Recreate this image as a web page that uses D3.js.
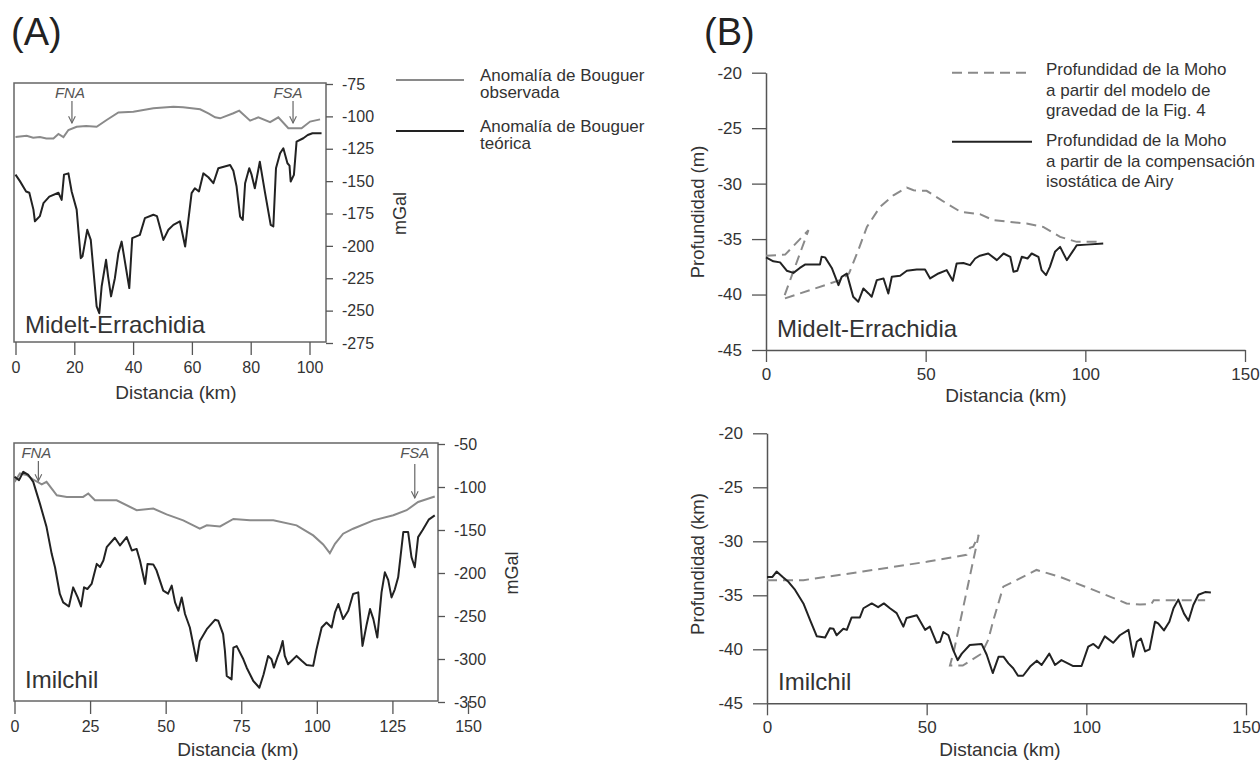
<!DOCTYPE html>
<html>
<head>
<meta charset="utf-8">
<script src="https://cdn.jsdelivr.net/npm/d3@7"></script>
<style>
  body { margin: 0; background: #fff; }
  svg { font-family: "Liberation Sans", Arial, sans-serif; }
  .tick text { fill: #333; }
</style>
</head>
<body>
<svg id="fig" width="1260" height="762"></svg>
<script>
// ---- data (km, value) ----
// (A) Midelt-Errachidia, Bouguer anomaly (mGal)
const midObs = [[0,-116],[3.8,-115],[6,-116.5],[8.3,-116],[10.5,-117],[12.9,-117],[14.6,-113.6],[16.3,-116],[18,-110.5],[20.8,-108],[24,-107.5],[27.6,-108],[31,-102.8],[35,-97],[40.1,-96.5],[46.9,-93.8],[53.7,-92.5],[57,-93],[62.8,-94.5],[65.6,-97.6],[67.9,-100.7],[69.6,-101.5],[74.1,-97.6],[76.1,-95.6],[79.8,-103.3],[82.6,-100.7],[86.6,-104.5],[89.4,-100.7],[92.8,-109.2],[97.3,-109.2],[100.2,-104],[103.6,-102.3]]
const midTeo = [[0,-145],[1.5,-150],[3.6,-158],[4.7,-159],[6.1,-172],[6.6,-181],[8.3,-177],[9.5,-167],[11.5,-162],[14.6,-159],[15.7,-164.5],[16.5,-145],[18,-144],[19.1,-158],[20.8,-172],[22.2,-209.5],[22.8,-208],[24.4,-187.6],[25.6,-195.4],[27.6,-246.8],[28.5,-252],[29.3,-231.4],[30.8,-210.8],[31.5,-223.7],[32.5,-239],[33.8,-225],[35,-205.6],[36.1,-196.7],[38.7,-232.6],[39.7,-194],[42.3,-191.5],[44,-178.6],[46.9,-176],[48.1,-177],[50.3,-195.4],[52,-187.6],[53.7,-183.8],[55.9,-181],[57.7,-200.5],[58.8,-180],[59.9,-159.3],[61,-155.5],[62.4,-158],[63.9,-144],[65.6,-147],[67.3,-151.6],[69,-140],[73,-137.5],[74.1,-142],[75.2,-154.2],[76.4,-177.4],[77.3,-180],[78.1,-151.6],[79.5,-140],[80.3,-145],[81.4,-155.5],[83.1,-135],[84.9,-159.3],[86.8,-183.8],[87.7,-185],[88.6,-140],[90,-128.5],[91.1,-124.6],[92.5,-136.2],[93.2,-138],[93.6,-150.3],[94.7,-145.2],[95.6,-119.5],[97.9,-116.9],[99.4,-114.4],[101,-113],[104.1,-113]]

// (A) Imilchil
const imiObs = [[0,-94],[1.8,-84.3],[4,-86],[6.2,-91.3],[9,-97],[10.6,-94],[14,-109.6],[17.3,-111.5],[22.7,-111.5],[24.4,-107.6],[26.6,-115.4],[33.8,-115.4],[40.4,-127],[45.9,-125],[50.3,-131.8],[55.8,-138.8],[61.3,-148.5],[63.6,-144.6],[68,-145.8],[72.4,-137.2],[77.9,-138.8],[85.6,-138.8],[93.3,-144.6],[98.8,-156.3],[102.1,-166.8],[104.3,-176.9],[106,-166],[108.7,-154.3],[112,-148.5],[118.7,-138.8],[125.3,-132.9],[129.7,-127],[133.5,-117.4],[136.5,-114],[139,-111]]
const imiTeo = [[0,-88],[1.5,-92],[2.9,-82.3],[4.6,-86],[6.2,-94],[8.4,-119.3],[10.6,-146.6],[12.3,-177.7],[13.4,-193.3],[15,-224.4],[16.1,-234.2],[18,-238.9],[19.4,-216.7],[20.9,-228.4],[22,-238.9],[23,-216.7],[24.1,-218.6],[25.5,-212.7],[27.2,-189.4],[28.3,-193],[29.4,-185.5],[30.5,-170],[33.2,-159],[34.9,-168],[37.1,-158.3],[38.8,-173.8],[40.4,-172],[41.5,-185.5],[43.2,-212.7],[44,-189.4],[45.9,-190],[47,-197.2],[49.2,-220.5],[50.8,-224],[52,-214.7],[53.1,-234.2],[54.2,-243.9],[55.3,-228.4],[56.4,-247.7],[58,-263.4],[59.1,-282.8],[60.2,-302.3],[61.3,-279],[63.6,-265.3],[66.3,-254.4],[67.4,-255.6],[69,-271],[69.6,-290.6],[70.2,-319.8],[71.8,-323.7],[72.4,-286.8],[73.5,-285],[75.7,-300.3],[76.8,-310.1],[79,-325.6],[81,-333.4],[82.4,-317.8],[83.9,-296.4],[85,-300.3],[85.8,-310],[86.9,-298.5],[87.8,-290.6],[88.7,-279],[89.4,-296.5],[90.5,-306.2],[93.3,-296.4],[95,-302],[96.6,-306.9],[98.8,-308],[99.9,-288.7],[101.6,-263.4],[103.2,-257.6],[104.9,-263.4],[106,-245.9],[107.1,-236.1],[108.7,-253.6],[110.4,-244],[112,-224.4],[113.7,-222.5],[115.1,-284.8],[116.5,-259.5],[117.6,-241.9],[118.7,-253.6],[120,-275.1],[121.4,-222.5],[122.5,-199.2],[123.6,-208],[124.7,-228.4],[125.8,-219],[126.9,-205],[128.6,-152.4],[130.2,-152.4],[131.3,-181.6],[132.4,-193.3],[133.5,-158.3],[135,-150],[137,-138],[139,-133]]

// (B) Moho depth (km)
const midGrav = [[0,-36.5],[6,-36.4],[13.3,-34.2],[5.4,-40.4],[23.2,-38.7],[26,-38.1],[28.9,-36],[31.6,-33.9],[35.7,-32.1],[39.9,-31.05],[44.1,-30.35],[46.2,-30.6],[50.3,-30.65],[56.6,-31.8],[61,-32.55],[67,-32.75],[71.2,-33.3],[81.6,-33.6],[86.8,-33.9],[92.1,-34.8],[97.3,-35.25],[104.6,-35.25]]
const midAiry = [[0,-36.65],[2.3,-37],[4.4,-37.1],[6.5,-37.85],[8.6,-38.05],[10.6,-37.6],[12.2,-37.3],[16.9,-37.3],[17.4,-36.6],[18.5,-36.65],[20.6,-37.6],[22.7,-39.15],[23.7,-38.4],[25.3,-38.1],[26.3,-39.15],[27.3,-40.2],[28.9,-40.65],[30.5,-39.45],[32.1,-39.9],[33.1,-40.2],[34.7,-38.7],[36.8,-38.55],[38.3,-39.9],[39.4,-38.4],[42,-38.3],[44.1,-37.85],[47.2,-37.75],[49.8,-37.75],[51.4,-38.55],[54,-38.1],[56.6,-37.8],[58.5,-38.75],[59.7,-37.2],[61.8,-37.15],[63.9,-37.35],[65.5,-36.75],[67,-36.5],[69.6,-36.3],[72.3,-36.9],[74.4,-36.3],[76.5,-36.6],[77.5,-37.95],[78.7,-37.85],[80.1,-36.6],[81.9,-36.75],[83.2,-36.3],[85.3,-36.6],[86.3,-37.8],[87.7,-38.25],[88.9,-37.5],[90.5,-36.15],[92.1,-35.7],[94.2,-36.9],[96.3,-36],[97.3,-35.55],[100.4,-35.5],[105.6,-35.4]]
const imiGrav = [[0,-33.6],[11.4,-33.6],[30,-32.8],[50,-31.9],[62.5,-31.25],[63.6,-30.6],[64.6,-30.5],[66.3,-29.4],[58.5,-40.2],[57.3,-41.5],[61.3,-41.5],[67.2,-40.4],[69.3,-39.1],[70.9,-37.3],[74,-34.2],[77.1,-33.75],[84.4,-32.65],[91.8,-33.3],[102.2,-34.5],[112.6,-35.75],[116.8,-35.85],[120.4,-35.8],[121.1,-35.45],[137.2,-35.45]]
const imiAiry = [[0,-33.3],[1.7,-33.3],[3,-32.8],[5.1,-33.35],[6.7,-33.75],[8.8,-34.5],[11.4,-35.75],[13.5,-37.3],[15.6,-38.8],[18.2,-38.9],[19.7,-38.05],[20.8,-38.1],[21.8,-38.7],[23.9,-38.1],[25,-38.2],[26.5,-37.05],[29.1,-37.05],[30.2,-36.2],[32.8,-35.75],[34.8,-36.1],[36.6,-35.75],[38.5,-36.2],[40.6,-36.65],[42.7,-37.9],[43.7,-37.1],[46.9,-36.85],[49.5,-38.2],[51,-37.9],[53.1,-39.4],[54.2,-39.3],[55.2,-38.4],[56.8,-38.7],[58.3,-40.05],[59.7,-41],[61,-40.4],[63.5,-39.6],[67.2,-39.5],[68.8,-40.5],[70.7,-42.2],[72.5,-40.7],[74.1,-40.7],[75.6,-41.3],[77.1,-41.75],[78.6,-42.45],[80.2,-42.45],[82.4,-41.6],[84.5,-41.05],[86,-41.45],[88.4,-40.4],[90.2,-41.45],[92.2,-41],[95.9,-41.55],[98.5,-41.55],[100.6,-39.75],[102.2,-39.5],[103.8,-39.9],[105.8,-38.8],[108.4,-39.4],[110.5,-38.7],[113.2,-38.2],[114.7,-40.7],[115.8,-39.3],[117.1,-39],[118.4,-40.2],[119.8,-40],[121.5,-37.45],[122.5,-37.6],[124.3,-38.25],[126,-37.45],[127.3,-36.2],[128.8,-35.4],[130.6,-36.7],[132,-37.35],[133.5,-35.9],[135.1,-34.95],[137.2,-34.7],[139,-34.75]]

// ticks
const aTopXTicks = [0, 20, 40, 60, 80, 100]
const aTopYTicks = [-75, -100, -125, -150, -175, -200, -225, -250, -275]
const aBotXTicks = [0, 25, 50, 75, 100, 125, 150]
const aBotYTicks = [-50, -100, -150, -200, -250, -300, -350]
const bXTicks = [0, 50, 100, 150]
const bYTicks = [-20, -25, -30, -35, -40, -45]

const GREY = "#8a8a8a"
const BLACK = "#222"
const AXIS = "#555"
const fmt = d => String(d)   // plain hyphen minus, as in the original

const svg = d3.select("#fig")
svg.append("rect").attr("width", 1260).attr("height", 762).attr("fill", "#fff")

svg.append("defs").append("marker")
  .attr("id", "arr").attr("viewBox", "0 0 10 10").attr("refX", 9).attr("refY", 5)
  .attr("markerWidth", 7).attr("markerHeight", 7).attr("orient", "auto")
  .append("path").attr("d", "M1,1 L9,5 L1,9").attr("fill", "none").attr("stroke", "#666").attr("stroke-width", 1.3)

const line = (x, y) => d3.line().x(d => x(d[0])).y(d => y(d[1]))

function styleAxis(g, size) {
  g.selectAll(".tick line").attr("stroke", AXIS).attr("stroke-width", 1.3)
  g.selectAll(".tick text").attr("font-size", size).attr("fill", "#333")
  g.select(".domain").attr("stroke", AXIS).attr("stroke-width", 1.5)
}

// ---- panel A ----
function panelA(cfg) {
  const x = d3.scaleLinear().domain(cfg.xDom).range(cfg.xRange)
  const y = d3.scaleLinear().domain(cfg.yDom).range(cfg.yRange)

  svg.append("rect")
    .attr("x", cfg.box[0]).attr("y", cfg.box[1])
    .attr("width", cfg.box[2] - cfg.box[0]).attr("height", cfg.box[3] - cfg.box[1])
    .attr("fill", "none").attr("stroke", "#666").attr("stroke-width", 1.5)

  const xAxis = svg.append("g").attr("transform", `translate(0,${cfg.box[3]})`)
    .call(d3.axisBottom(x).tickValues(cfg.xTicks).tickFormat(fmt).tickSize(13).tickPadding(7))
  xAxis.select(".domain").remove()
  styleAxis(xAxis, 16)

  const yAxis = svg.append("g").attr("transform", `translate(${cfg.box[2]},0)`)
    .call(d3.axisRight(y).tickValues(cfg.yTicks).tickFormat(fmt).tickSize(7).tickPadding(9))
  yAxis.select(".domain").remove()
  styleAxis(yAxis, 16)

  svg.append("path").datum(cfg.obs).attr("d", line(x, y))
    .attr("fill", "none").attr("stroke", GREY).attr("stroke-width", 2)
  svg.append("path").datum(cfg.teo).attr("d", line(x, y))
    .attr("fill", "none").attr("stroke", BLACK).attr("stroke-width", 2).attr("stroke-linejoin", "round")

  // fault markers
  cfg.faults.forEach(f => {
    svg.append("text").attr("x", x(f.km) + f.dx).attr("y", f.ty)
      .attr("text-anchor", "middle").attr("font-size", 15).attr("font-style", "italic")
      .attr("fill", "#555").text(f.name)
    svg.append("line").attr("x1", x(f.km)).attr("x2", x(f.km))
      .attr("y1", f.y1).attr("y2", f.y2)
      .attr("stroke", "#666").attr("stroke-width", 1.2).attr("marker-end", "url(#arr)")
  })

  svg.append("text").attr("x", cfg.box[0] + 11).attr("y", cfg.nameY)
    .attr("font-size", 24).attr("fill", "#333").text(cfg.name)

  svg.append("text").attr("x", cfg.titleX).attr("y", cfg.titleY)
    .attr("text-anchor", "middle").attr("font-size", 19).attr("fill", "#333").text("Distancia (km)")

  svg.append("text")
    .attr("transform", `translate(${cfg.unitX},${(cfg.yRange[0] + cfg.yRange[1]) / 2}) rotate(-90)`)
    .attr("text-anchor", "middle").attr("font-size", 18).attr("fill", "#333").text("mGal")
}

panelA({
  xDom: [0, 100], xRange: [15.5, 309.5], yDom: [-75, -275], yRange: [84, 343],
  box: [14, 83, 326, 342], xTicks: aTopXTicks, yTicks: aTopYTicks,
  obs: midObs, teo: midTeo, name: "Midelt-Errachidia", nameY: 333,
  titleX: 176, titleY: 399, unitX: 406,
  faults: [
    { name: "FNA", km: 19.2, dx: -2, ty: 98, y1: 101, y2: 123 },
    { name: "FSA", km: 94.4, dx: -5, ty: 98, y1: 101, y2: 123 }
  ]
})

panelA({
  xDom: [0, 150], xRange: [14.5, 468], yDom: [-50, -350], yRange: [444, 702],
  box: [14, 443, 438, 701], xTicks: aBotXTicks, yTicks: aBotYTicks,
  obs: imiObs, teo: imiTeo, name: "Imilchil", nameY: 688,
  titleX: 238, titleY: 756, unitX: 518,
  faults: [
    { name: "FNA", km: 7.9, dx: -2, ty: 458, y1: 461, y2: 481 },
    { name: "FSA", km: 132.4, dx: 0, ty: 458, y1: 464, y2: 498 }
  ]
})

// legend A
const legA = [
  { color: GREY, y: 80, lines: ["Anomalía de Bouguer", "observada"], ty: 81 },
  { color: BLACK, y: 131, lines: ["Anomalía de Bouguer", "teórica"], ty: 132 }
]
legA.forEach(l => {
  svg.append("line").attr("x1", 396).attr("x2", 464).attr("y1", l.y).attr("y2", l.y)
    .attr("stroke", l.color).attr("stroke-width", 2)
  const t = svg.append("text").attr("x", 480).attr("y", l.ty).attr("font-size", 17).attr("fill", "#333")
  l.lines.forEach((s, i) => t.append("tspan").attr("x", 480).attr("dy", i ? 17 : 0).text(s))
})

// ---- panel B ----
function panelB(cfg) {
  const x = d3.scaleLinear().domain([0, 150]).range(cfg.xRange)
  const y = d3.scaleLinear().domain([-20, -45]).range(cfg.yRange)

  const xAxis = svg.append("g").attr("transform", `translate(0,${cfg.yRange[1]})`)
    .call(d3.axisBottom(x).tickValues(bXTicks).tickFormat(fmt).tickSize(12).tickSizeOuter(0).tickPadding(6))
  styleAxis(xAxis, 17)
  const yAxis = svg.append("g").attr("transform", `translate(${cfg.xRange[0]},0)`)
    .call(d3.axisLeft(y).tickValues(bYTicks).tickFormat(fmt).tickSize(14).tickSizeOuter(0).tickPadding(10))
  styleAxis(yAxis, 17)

  svg.append("path").datum(cfg.grav).attr("d", line(x, y))
    .attr("fill", "none").attr("stroke", GREY).attr("stroke-width", 2).attr("stroke-dasharray", "10,6")
  svg.append("path").datum(cfg.airy).attr("d", line(x, y))
    .attr("fill", "none").attr("stroke", BLACK).attr("stroke-width", 2).attr("stroke-linejoin", "round")

  svg.append("text").attr("x", cfg.xRange[0] + 11).attr("y", cfg.nameY)
    .attr("font-size", 24).attr("fill", "#333").text(cfg.name)
  svg.append("text").attr("x", cfg.titleX).attr("y", cfg.titleY)
    .attr("text-anchor", "middle").attr("font-size", 19).attr("fill", "#333").text("Distancia (km)")
  svg.append("text")
    .attr("transform", `translate(704,${cfg.labelY}) rotate(-90)`)
    .attr("text-anchor", "middle").attr("font-size", 18.5).attr("fill", "#333").text(cfg.yLabel)
}

panelB({ xRange: [766, 1245], yRange: [72.7, 350], grav: midGrav, airy: midAiry,
  name: "Midelt-Errachidia", nameY: 337, titleX: 1006, titleY: 402,
  yLabel: "Profundidad (m)", labelY: 212 })
panelB({ xRange: [767, 1246], yRange: [433.3, 703.3], grav: imiGrav, airy: imiAiry,
  name: "Imilchil", nameY: 690, titleX: 1000, titleY: 756,
  yLabel: "Profundidad (km)", labelY: 564 })

// legend B
const legB = [
  { dash: "10,6", color: GREY, y: 72.7, lines: ["Profundidad de la Moho", "a partir del modelo de", "gravedad de la Fig. 4"], ty: 75 },
  { dash: null, color: BLACK, y: 141.7, lines: ["Profundidad de la Moho", "a partir de la compensación", "isostática de Airy"], ty: 146 }
]
legB.forEach(l => {
  svg.append("line").attr("x1", 952).attr("x2", 1032).attr("y1", l.y).attr("y2", l.y)
    .attr("stroke", l.color).attr("stroke-width", 2).attr("stroke-dasharray", l.dash)
  const t = svg.append("text").attr("x", 1046).attr("y", l.ty).attr("font-size", 17).attr("fill", "#333")
  l.lines.forEach((s, i) => t.append("tspan").attr("x", 1046).attr("dy", i ? 20.5 : 0).text(s))
})

// panel letters
svg.append("text").attr("x", 11).attr("y", 45).attr("font-size", 38).attr("fill", "#222").text("(A)")
svg.append("text").attr("x", 704).attr("y", 45).attr("font-size", 38).attr("fill", "#222").text("(B)")
</script>
</body>
</html>
